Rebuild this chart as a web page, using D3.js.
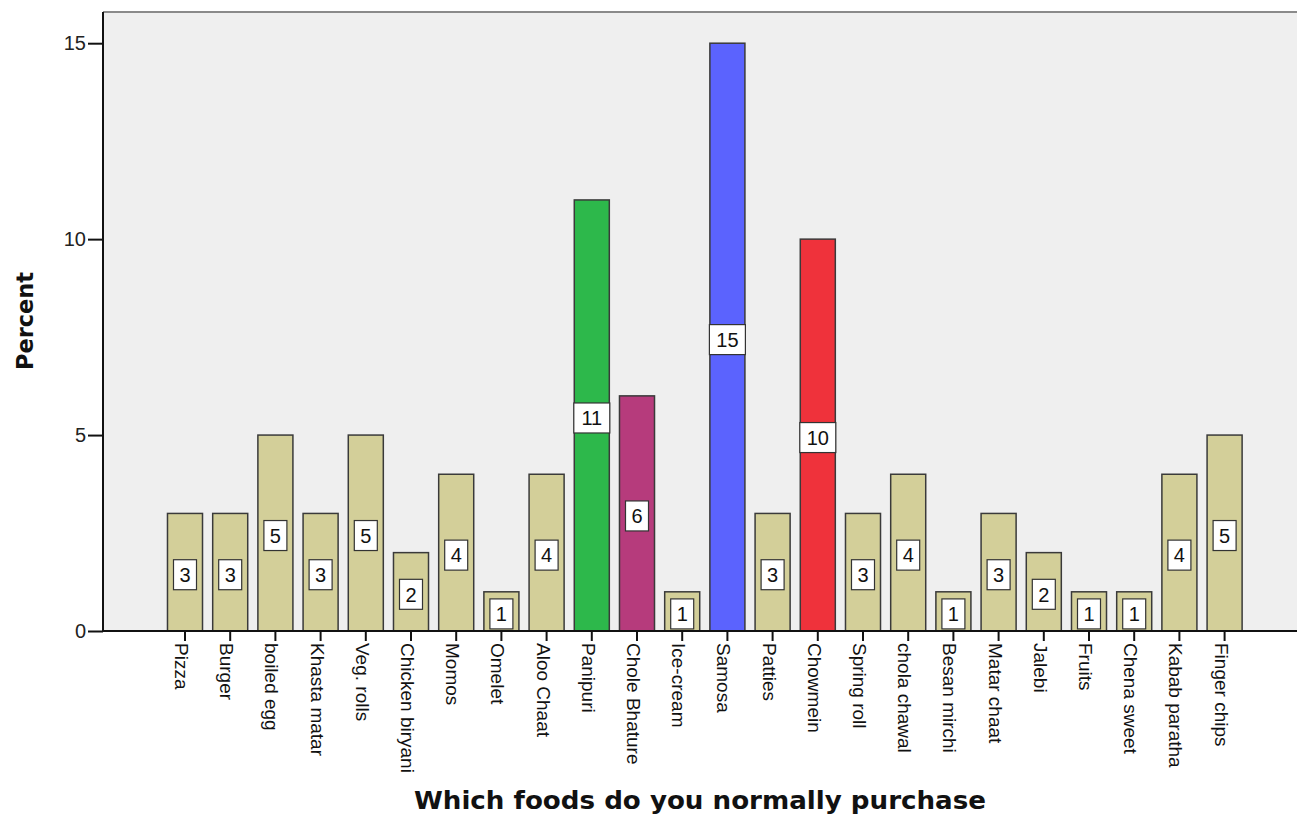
<!DOCTYPE html>
<html>
<head>
<meta charset="utf-8">
<script src="https://cdn.jsdelivr.net/npm/d3@7/dist/d3.min.js"></script>
<style>
  html, body { margin: 0; padding: 0; background: #ffffff; }
  svg { display: block; font-family: "Liberation Sans", Arial, sans-serif; }
</style>
</head>
<body>
<svg id="chart" width="1297" height="817"></svg>
<script>
// Foods bought and the percentage of respondents choosing each
const categories = [
  "Pizza", "Burger", "boiled egg", "Khasta matar", "Veg. rolls", "Chicken biryani",
  "Momos", "Omelet", "Aloo Chaat", "Panipuri", "Chole Bhature", "Ice-cream",
  "Samosa", "Patties", "Chowmein", "Spring roll", "chola chawal", "Besan mirchi",
  "Matar chaat", "Jalebi", "Fruits", "Chena sweet", "Kabab paratha", "Finger chips"
];
const percents = [3, 3, 5, 3, 5, 2, 4, 1, 4, 11, 6, 1, 15, 3, 10, 3, 4, 1, 3, 2, 1, 1, 4, 5];
const barColors = [
  "#d3cf99", "#d3cf99", "#d3cf99", "#d3cf99", "#d3cf99", "#d3cf99",
  "#d3cf99", "#d3cf99", "#d3cf99", "#2db84b", "#b63b7c", "#d3cf99",
  "#5b63fe", "#d3cf99", "#ef323b", "#d3cf99", "#d3cf99", "#d3cf99",
  "#d3cf99", "#d3cf99", "#d3cf99", "#d3cf99", "#d3cf99", "#d3cf99"
];
const yTicks = [0, 5, 10, 15];
const xTitle = "Which foods do you normally purchase";
const yTitle = "Percent";

const data = categories.map((c, i) => ({ name: c, value: percents[i], color: barColors[i] }));

const svg = d3.select("#chart");
const W = 1297;
const plot = { left: 103, top: 12, right: W, bottom: 631 };

const x = d3.scaleBand()
  .domain(categories)
  .range([162.4, 1247.2])
  .paddingInner(0.225)
  .paddingOuter(0.1125);

const y = d3.scaleLinear().domain([0, 15]).range([plot.bottom, 43.2]);

// plot background
svg.append("rect")
  .attr("x", plot.left).attr("y", plot.top)
  .attr("width", plot.right - plot.left).attr("height", plot.bottom - plot.top)
  .attr("fill", "#efefef");

// top frame line
svg.append("line")
  .attr("x1", plot.left).attr("x2", plot.right)
  .attr("y1", plot.top).attr("y2", plot.top)
  .attr("stroke", "#8a8a8a").attr("stroke-width", 2);

// bars
svg.append("g").selectAll("rect")
  .data(data)
  .join("rect")
  .attr("x", d => x(d.name))
  .attr("y", d => y(d.value))
  .attr("width", x.bandwidth())
  .attr("height", d => y(0) - y(d.value))
  .attr("fill", d => d.color)
  .attr("stroke", "#3a3a3a")
  .attr("stroke-width", 1.5);

// value boxes in the middle of each bar
const boxH = 30;
const lbl = svg.append("g").selectAll("g")
  .data(data)
  .join("g")
  .attr("transform", d => {
    let cy = y(d.value / 2) + 2.5;
    cy = Math.min(cy, y(0) - 1 - boxH / 2);
    return `translate(${x(d.name) + x.bandwidth() / 2},${cy})`;
  });
lbl.append("rect")
  .attr("x", d => -(String(d.value).length > 1 ? 18 : 11.5))
  .attr("y", -boxH / 2)
  .attr("width", d => String(d.value).length > 1 ? 36 : 23)
  .attr("height", boxH)
  .attr("fill", "#ffffff")
  .attr("stroke", "#333333")
  .attr("stroke-width", 1.2);
lbl.append("text")
  .attr("text-anchor", "middle")
  .attr("dy", "0.36em")
  .attr("font-size", 20)
  .attr("fill", "#111")
  .text(d => d.value);

// y axis
const yAxis = d3.axisLeft(y).tickValues(yTicks).tickSize(15).tickPadding(2).tickFormat(d3.format("d"));
const gy = svg.append("g").attr("transform", `translate(${plot.left},0)`).call(yAxis);
gy.select(".domain").attr("stroke", "#111").attr("stroke-width", 2)
  .attr("d", `M0,${plot.top}V${plot.bottom}`);
gy.selectAll(".tick line").attr("stroke", "#111").attr("stroke-width", 2);
gy.selectAll(".tick text").attr("font-size", 20).attr("fill", "#222")
  .attr("font-family", "Liberation Sans, Arial, sans-serif");

// x axis with labels running downward
const xAxis = d3.axisBottom(x).tickSize(10).tickPadding(0);
const gx = svg.append("g").attr("transform", `translate(0,${plot.bottom})`).call(xAxis);
gx.select(".domain").attr("stroke", "#111").attr("stroke-width", 2)
  .attr("d", `M${plot.left},0H${plot.right}`);
gx.selectAll(".tick line").attr("stroke", "#111").attr("stroke-width", 2);
gx.selectAll(".tick text")
  .attr("font-size", 19).attr("fill", "#111")
  .attr("font-family", "Liberation Sans, Arial, sans-serif")
  .attr("text-anchor", "start")
  .attr("dy", null)
  .attr("x", 12)
  .attr("y", 10)
  .attr("transform", "rotate(90)");

// axis titles
svg.append("text")
  .attr("x", 700).attr("y", 809)
  .attr("text-anchor", "middle")
  .attr("font-family", "DejaVu Sans, Verdana, sans-serif")
  .attr("font-size", 24).attr("font-weight", "bold")
  .attr("textLength", 572).attr("lengthAdjust", "spacingAndGlyphs")
  .attr("fill", "#111")
  .text(xTitle);

svg.append("text")
  .attr("transform", "translate(33,321) rotate(-90)")
  .attr("text-anchor", "middle")
  .attr("font-family", "DejaVu Sans, Verdana, sans-serif")
  .attr("font-size", 22.5).attr("font-weight", "bold")
  .attr("textLength", 98).attr("lengthAdjust", "spacingAndGlyphs")
  .attr("fill", "#111")
  .text(yTitle);
</script>
</body>
</html>
